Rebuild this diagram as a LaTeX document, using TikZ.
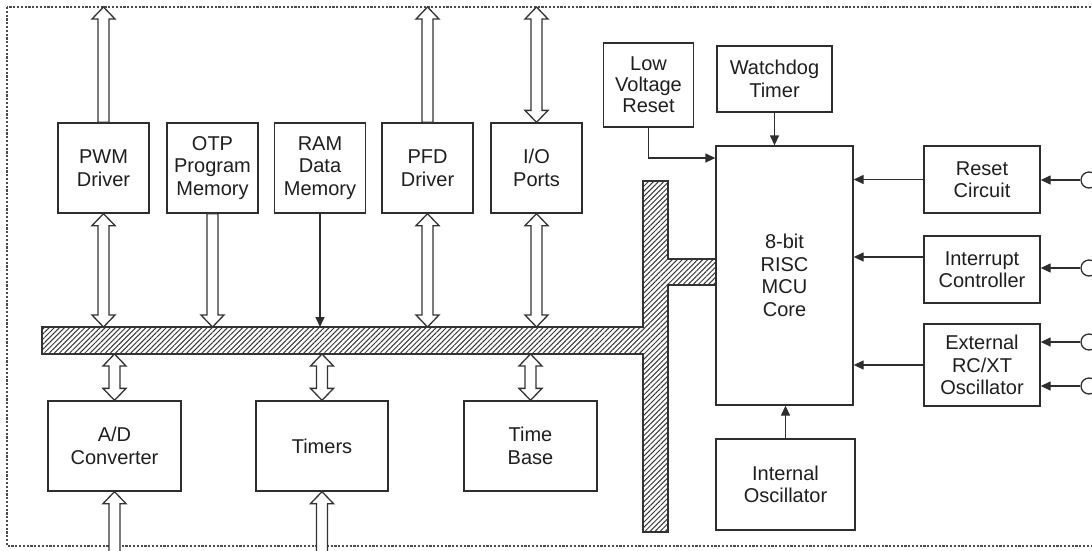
\documentclass[tikz,border=0pt]{standalone}
\usepackage{fontspec}
\setmainfont{Liberation Sans}
\usetikzlibrary{arrows.meta,calc,patterns.meta}
\newcommand\fatbi[2]{\draw[fat] let \p1=(#1), \p2=(#2) in
  (\x1,\y1) -- (\x1+11.5pt,\y1-12pt) -- (\x1+5.5pt,\y1-12pt) -- (\x1+5.5pt,\y2+12pt) -- (\x1+11.5pt,\y2+12pt) -- (\x1,\y2)
  -- (\x1-11.5pt,\y2+12pt) -- (\x1-5.5pt,\y2+12pt) -- (\x1-5.5pt,\y1-12pt) -- (\x1-11.5pt,\y1-12pt) -- cycle;}
\newcommand\fatup[2]{\draw[fat] let \p1=(#1), \p2=(#2) in
  (\x1,\y1) -- (\x1+11.5pt,\y1-12pt) -- (\x1+5.5pt,\y1-12pt) -- (\x1+5.5pt,\y2) -- (\x1-5.5pt,\y2)
  -- (\x1-5.5pt,\y1-12pt) -- (\x1-11.5pt,\y1-12pt) -- cycle;}
\newcommand\fatdown[2]{\draw[fat] let \p1=(#1), \p2=(#2) in
  (\x1-5.5pt,\y1) -- (\x1+5.5pt,\y1) -- (\x1+5.5pt,\y2+12pt) -- (\x1+11.5pt,\y2+12pt) -- (\x1,\y2)
  -- (\x1-11.5pt,\y2+12pt) -- (\x1-5.5pt,\y2+12pt) -- cycle;}
\begin{document}
\begin{tikzpicture}[x=1pt,y=-1pt,
  box/.style={draw=black!82, line width=1.3pt, fill=white, inner sep=0pt, align=center, text=black!88, font=\fontsize{20}{22.5}\selectfont},
  fat/.style={draw=black!80, line width=1.3pt, fill=white, line join=miter},
  sig/.style={draw=black!82, line width=1.3pt, -{Triangle[length=10pt,width=9pt]}},
  pin/.style={circle, draw=black!82, line width=1.3pt, fill=white, minimum size=16pt, inner sep=0pt},
  bus/.style={draw=black!80, line width=1.2pt, pattern={Lines[angle=45,distance=3.6pt,line width=1pt]}, pattern color=black!78},
]
\useasboundingbox (0,0) rectangle (1092,550);
\clip (0,0) rectangle (1092,550);
\draw[black!70, line width=1.1pt, dash pattern=on 2.2pt off 1.6pt] (7,7) rectangle (1110,546);

\coordinate (bordertop) at (0,7);
\coordinate (pagebot) at (0,560);
\coordinate (bustop) at (0,327);
\coordinate (busbot) at (0,354);
\coordinate (lvrj) at (0,158);
\coordinate (irqj) at (0,257);

% bus
\draw[bus] (42,327) -- (643,327) -- (643,181) -- (668,181) -- (668,259) -- (716,259) -- (716,285)
  -- (668,285) -- (668,532) -- (643,532) -- (643,354) -- (42,354) -- cycle;

% top row
\node[box, minimum width=91pt, minimum height=90pt] (pwm) at (103.5,168) {PWM\\Driver};
\node[box, minimum width=91pt, minimum height=90pt] (otp) at (212.5,168) {OTP\\Program\\Memory};
\node[box, minimum width=91pt, minimum height=90pt] (ram) at (320,168) {RAM\\Data\\Memory};
\node[box, minimum width=91pt, minimum height=90pt] (pfd) at (427.5,168) {PFD\\Driver};
\node[box, minimum width=91pt, minimum height=90pt] (io) at (536.5,168) {I/O\\Ports};

% bottom row
\node[box, minimum width=133pt, minimum height=90pt] (ad) at (114.5,446) {A/D\\Converter};
\node[box, minimum width=132pt, minimum height=90pt] (tim) at (322,446) {Timers};
\node[box, minimum width=133pt, minimum height=90pt] (tb) at (530.5,446) {Time\\Base};

% core area
\node[box, minimum width=137pt, minimum height=259pt] (mcu) at (784.5,275.5) {8-bit\\RISC\\MCU\\Core};
\node[box, minimum width=139pt, minimum height=91pt] (osc) at (785.5,484.5) {Internal\\Oscillator};
\node[box, minimum width=90pt, minimum height=84pt, font=\fontsize{20}{21}\selectfont] (lvr) at (648.5,85) {Low\\Voltage\\Reset};
\node[box, minimum width=115pt, minimum height=66pt] (wdt) at (774.5,79) {Watchdog\\Timer};
\node[box, minimum width=116pt, minimum height=67pt] (rst) at (982,179.5) {Reset\\Circuit};
\node[box, minimum width=116pt, minimum height=67pt] (irq) at (982,269.5) {Interrupt\\Controller};
\node[box, minimum width=116pt, minimum height=82pt] (ext) at (982,365) {External\\RC/XT\\Oscillator};

% pins
\node[pin] (p1) at (1089,180) {};
\node[pin] (p2) at (1089,268) {};
\node[pin] (p3) at (1089,342) {};
\node[pin] (p4) at (1089,386) {};

% wide arrows
\fatup{pwm.north |- bordertop}{pwm.north}
\fatbi{pwm.south}{pwm.south |- bustop}
\fatdown{otp.south}{otp.south |- bustop}
\fatup{pfd.north |- bordertop}{pfd.north}
\fatbi{pfd.south}{pfd.south |- bustop}
\fatbi{io.north |- bordertop}{io.north}
\fatbi{io.south}{io.south |- bustop}
\fatbi{ad.north |- busbot}{ad.north}
\fatbi{tim.north |- busbot}{tim.north}
\fatbi{tb.north |- busbot}{tb.north}
\fatup{ad.south}{ad.south |- pagebot}
\fatup{tim.south}{tim.south |- pagebot}

% thin signals
\draw[sig] (ram.south) -- (ram.south |- bustop);
\draw[sig] (lvr.south) |- (mcu.west |- lvrj);
\draw[sig] (wdt.south) -- (wdt.south |- mcu.north);
\draw[sig] (osc.north) -- (osc.north |- mcu.south);
\draw[sig] (rst.west) -- (mcu.east |- rst.west);
\draw[sig] (irq.west |- irqj) -- (mcu.east |- irqj);
\draw[sig] (ext.west) -- (mcu.east |- ext.west);
\draw[sig] (p1) -- (p1 -| rst.east);
\draw[sig] (p2) -- (p2 -| irq.east);
\draw[sig] (p3) -- (p3 -| ext.east);
\draw[sig] (p4) -- (p4 -| ext.east);
\end{tikzpicture}
\end{document}
